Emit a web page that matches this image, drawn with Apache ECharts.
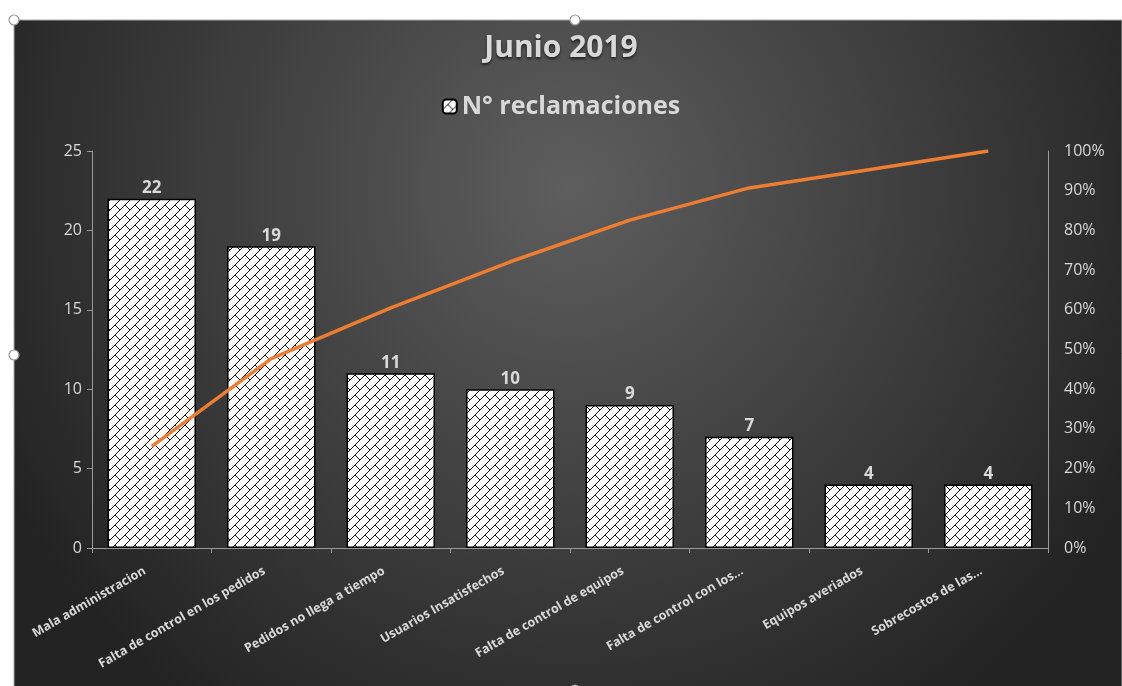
<!DOCTYPE html>
<html>
<head>
<meta charset="utf-8">
<script src="https://cdn.jsdelivr.net/npm/echarts@6/dist/echarts.min.js"></script>
<style>
  html, body { margin: 0; padding: 0; background: #fff; }
  #main { width: 1122px; height: 686px; }
</style>
</head>
<body>
<div id="main"></div>
<script>
// datos del grafico
var categorias = ['Mala administracion', 'Falta de control en los pedidos', 'Pedidos no llega a tiempo',
  'Usuarios Insatisfechos', 'Falta de control de equipos', 'Falta de control con los…',
  'Equipos averiados', 'Sobrecostos de las…'];
var reclamaciones = [22, 19, 11, 10, 9, 7, 4, 4];
var acumulado = [0.256, 0.477, 0.605, 0.721, 0.826, 0.907, 0.953, 1.0];
var ticksIzq = [0, 5, 10, 15, 20, 25];

// patron "ladrillo diagonal" para las barras
function patronLadrillo() {
  var n = 10;
  var c = document.createElement('canvas');
  c.width = n; c.height = n;
  var g = c.getContext('2d');
  g.fillStyle = '#ffffff';
  g.fillRect(0, 0, n, n);
  g.fillStyle = '#111111';
  for (var i = 0; i < n; i++) g.fillRect(n - 1 - i, i, 1, 1);   // linea "/"
  for (var j = 5; j < n; j++) g.fillRect(j, j, 1, 1);           // junta "\"
  return c;
}
var relleno = { image: patronLadrillo(), repeat: 'repeat' };

var txt = '#d9d9d9';
var ejes = '#9a9a9a';
var fuente = 'Open Sans';

var chart = echarts.init(document.getElementById('main'));

function asa(x, y) {
  return { type: 'circle', shape: { cx: x, cy: y, r: 5 }, z: 100,
    style: { fill: '#ffffff', stroke: '#9a9a9a', lineWidth: 1.2 } };
}

var option = {
  backgroundColor: '#ffffff',
  animation: false,
  graphic: [
    {
      type: 'rect', z: -10, silent: true,
      shape: { x: 14, y: 20, width: 1108, height: 670 },
      style: {
        fill: {
          type: 'radial', x: 0.5, y: 0.25, r: 0.95,
          colorStops: [
            { offset: 0, color: '#5e5e5e' },
            { offset: 1, color: '#232323' }
          ]
        },
        stroke: '#a8a8a8', lineWidth: 1
      }
    },
    asa(14, 20), asa(575, 20), asa(14, 355), asa(575, 690)
  ],
  title: {
    text: 'Junio 2019',
    left: 'center',
    top: 28,
    textStyle: {
      color: txt, fontFamily: fuente, fontWeight: 'bold', fontSize: 30,
      textShadowColor: 'rgba(0,0,0,0.6)', textShadowBlur: 3, textShadowOffsetY: 2
    }
  },
  legend: {
    data: ['N° reclamaciones'],
    top: 89,
    left: 'center',
    itemWidth: 14,
    itemHeight: 14,
    itemGap: 6,
    textStyle: { color: txt, fontFamily: fuente, fontWeight: 'bold', fontSize: 25 }
  },
  grid: { left: 92, right: 74, top: 151, bottom: 138 },
  xAxis: {
    type: 'category',
    data: categorias,
    axisLine: { show: true, lineStyle: { color: ejes, width: 1 } },
    axisTick: { show: true, length: 5, lineStyle: { color: ejes } },
    axisLabel: {
      rotate: 30, margin: 18, interval: 0, padding: [0, 8, 0, 0],
      color: txt, fontFamily: fuente, fontWeight: 'bold', fontSize: 12.5
    }
  },
  yAxis: [
    {
      type: 'value', min: ticksIzq[0], max: ticksIzq[ticksIzq.length - 1], interval: 5,
      axisLine: { show: true, lineStyle: { color: ejes } },
      axisTick: { show: true, length: 5, lineStyle: { color: ejes } },
      axisLabel: { color: txt, fontFamily: fuente, fontSize: 16, margin: 10 },
      splitLine: { show: false }
    },
    {
      type: 'value', min: 0, max: 1, interval: 0.1,
      axisLine: { show: true, lineStyle: { color: ejes } },
      axisTick: { show: false },
      axisLabel: {
        color: txt, fontFamily: fuente, fontSize: 16, margin: 16,
        formatter: function (v) { return Math.round(v * 100) + '%'; }
      },
      splitLine: { show: false }
    }
  ],
  series: [
    {
      name: 'N° reclamaciones',
      type: 'bar',
      data: reclamaciones,
      barCategoryGap: '26%',
      itemStyle: { color: relleno, borderColor: '#000000', borderWidth: 1.5 },
      label: {
        show: true, position: 'top', distance: 2,
        color: txt, fontFamily: fuente, fontWeight: 'bold', fontSize: 17
      }
    },
    {
      name: '% acumulado',
      type: 'line',
      yAxisIndex: 1,
      data: acumulado,
      showSymbol: false,
      symbol: 'none',
      lineStyle: { color: '#ed7d31', width: 3.5 },
      itemStyle: { color: '#ed7d31' },
      z: 5
    }
  ]
};

chart.setOption(option);
</script>
</body>
</html>
